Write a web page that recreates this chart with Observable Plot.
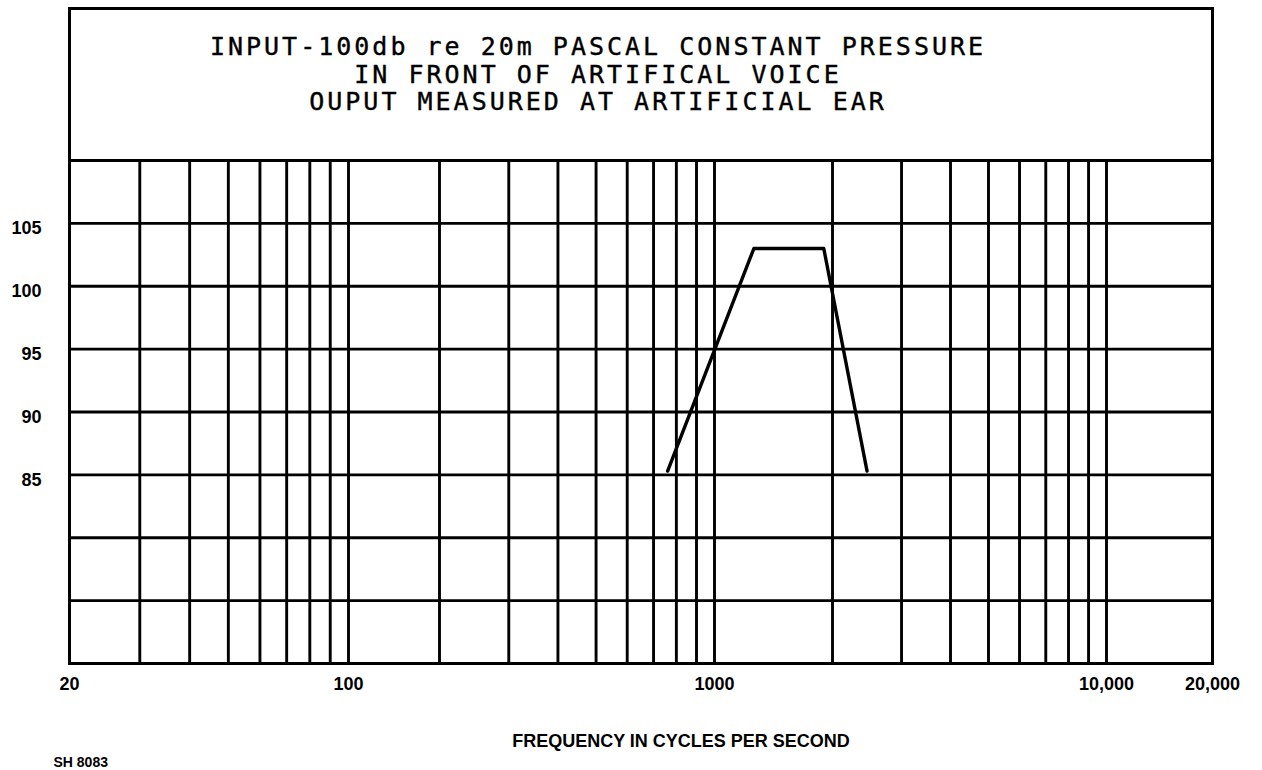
<!DOCTYPE html>
<html>
<head>
<meta charset="utf-8">
<script src="https://cdn.jsdelivr.net/npm/d3@7"></script>
<script src="https://cdn.jsdelivr.net/npm/@observablehq/plot@0.6"></script>
<style>
  body { margin: 0; background: #fff; }
</style>
</head>
<body>
<div id="chart"></div>
<script>
// ---- data ----
const titleLines = [
  "INPUT-100db re 20m PASCAL CONSTANT PRESSURE",
  "IN FRONT OF ARTIFICAL VOICE",
  "OUPUT MEASURED AT ARTIFICIAL EAR"
];
const gridFreqs = [20, 30, 40, 50, 60, 70, 80, 90, 100,
  200, 300, 400, 500, 600, 700, 800, 900, 1000,
  2000, 3000, 4000, 5000, 6000, 7000, 8000, 9000, 10000, 20000];
const gridLevels = [75, 80, 85, 90, 95, 100, 105, 110];
const xTickValues = [20, 100, 1000, 10000, 20000];
const xTickLabels = ["20", "100", "1000", "10,000", "20,000"];
const yTickValues = [85, 90, 95, 100, 105];
const responseFreq = [760, 1260, 1900, 2450];
const responseDb = [85.3, 103, 103, 85.3];
const xLabel = "FREQUENCY IN CYCLES PER SECOND";
const sheetId = "SH 8083";

const response = responseFreq.map((f, i) => ({f, db: responseDb[i]}));
const labelFont = "'Liberation Sans', Arial, sans-serif";

const chart = Plot.plot({
  width: 1262,
  height: 770,
  marginLeft: 69,
  marginRight: 50,
  marginTop: 8,
  marginBottom: 107,
  style: {background: "#fff", color: "#000"},
  x: {type: "log", domain: [20, 100, 200, 1000, 10000, 20000], range: [69, 348, 439, 714, 1106, 1212]},
  y: {domain: [70, 110], range: [663, 160]},
  marks: [
    Plot.ruleY(gridLevels, {stroke: "#000", strokeWidth: 2.9}),
    Plot.ruleX(gridFreqs, {y1: 70, y2: 110, stroke: "#000", strokeWidth: 2.9}),
    Plot.frame({stroke: "#000", strokeWidth: 3}),
    Plot.line(response, {x: "f", y: "db", stroke: "#000", strokeWidth: 3.4}),
    Plot.axisX({
      ticks: xTickValues,
      tickFormat: (d) => xTickLabels[xTickValues.indexOf(d)],
      tickSize: 0, tickPadding: 14, label: null,
      fontFamily: labelFont, fontWeight: "bold", fontSize: 18, fill: "#000"
    }),
    Plot.axisY({
      ticks: yTickValues,
      tickSize: 0, tickPadding: 28, label: null, dy: 5,
      fontFamily: labelFont, fontWeight: "bold", fontSize: 18, fill: "#000"
    }),
    Plot.text([titleLines.join("\n")], {
      frameAnchor: "top", dx: -43, dy: 27, lineAnchor: "top", lineHeight: 1.1,
      fontFamily: "'DejaVu Sans Mono', monospace", fontSize: 25, fill: "#000",
      stroke: "#000", strokeWidth: 0.4
    }),
    Plot.text([xLabel], {
      frameAnchor: "bottom", dx: 40, dy: 71, lineAnchor: "top",
      fontFamily: labelFont, fontWeight: "bold", fontSize: 18, fill: "#000"
    }),
    Plot.text([sheetId], {
      frameAnchor: "bottom-left", dx: -16, dy: 94, lineAnchor: "top", textAnchor: "start",
      fontFamily: labelFont, fontWeight: "bold", fontSize: 14, fill: "#000"
    })
  ]
});
// widen the plotter-style title lettering
d3.select(chart).selectAll("text")
  .filter(function () { return this.textContent.startsWith("INPUT"); })
  .style("letter-spacing", "3px");
document.getElementById("chart").appendChild(chart);
</script>
</body>
</html>
